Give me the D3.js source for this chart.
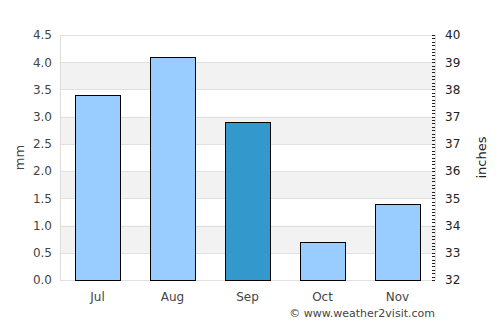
<!DOCTYPE html>
<html><head><meta charset="utf-8">
<script src="https://cdn.jsdelivr.net/npm/d3@7"></script>
<style>body{margin:0;background:#fff}svg{display:block}text{font-family:"DejaVu Sans",sans-serif}</style>
</head><body><svg id="c" width="500" height="325"></svg>
<script>
const months = ["Jul","Aug","Sep","Oct","Nov"];
const rainfall = [3.4,4.1,2.9,0.7,1.4];
const highlight = [false,false,true,false,false];
const leftTicks = [0,0.5,1.0,1.5,2.0,2.5,3.0,3.5,4.0,4.5];
const rightTickLabels = ["32","33","34","35","36","37","37","38","39","40"];

const svg = d3.select("#c");
const m = {l:60, r:435, t:35, b:280};
const x = d3.scaleBand().domain(months).range([m.l, m.r]).paddingInner(0.4).paddingOuter(0.2);
const y = d3.scaleLinear().domain([0,4.5]).range([m.b, m.t]);

// bands
for (let i=0;i<leftTicks.length-1;i++){
  const a = leftTicks[i], b = leftTicks[i+1];
  if (i%2===1) svg.append("rect").attr("x",m.l).attr("width",m.r-m.l).attr("y",y(b)).attr("height",y(a)-y(b)).attr("fill","#f2f2f2");
}
// gridlines
svg.append("g").selectAll("line").data(leftTicks).join("line")
  .attr("x1",m.l).attr("x2",m.r).attr("y1",d=>Math.round(y(d))+0.5).attr("y2",d=>Math.round(y(d))+0.5)
  .attr("stroke","#e0e0e0");
svg.append("line").attr("x1",m.l+0.5).attr("x2",m.l+0.5).attr("y1",m.t).attr("y2",m.b).attr("stroke","#ddd");
svg.append("line").attr("x1",m.r+0.5).attr("x2",m.r+0.5).attr("y1",m.t).attr("y2",m.b).attr("stroke","#ddd");

// bars
svg.append("g").selectAll("rect").data(months).join("rect")
  .attr("x",d=>Math.round(x(d))+0.5).attr("width",Math.round(x.bandwidth()))
  .attr("y",(d,i)=>Math.round(y(rainfall[i]))+0.5).attr("height",(d,i)=>Math.round(y(0))-Math.round(y(rainfall[i])))
  .attr("fill",(d,i)=>highlight[i]?"#3399cc":"#99ccff").attr("stroke","#000").attr("stroke-width",1);

// left axis
const la = svg.append("g").attr("transform",`translate(${m.l},0)`)
  .call(d3.axisLeft(y).tickValues(leftTicks).tickFormat(d3.format(".1f")).tickSize(0).tickPadding(8));
la.select(".domain").remove();
la.selectAll("text").attr("font-size",12).attr("fill","#444");

// bottom axis
const ba = svg.append("g").attr("transform",`translate(0,${m.b})`)
  .call(d3.axisBottom(x).tickSize(0).tickPadding(12));
ba.select(".domain").remove();
ba.selectAll("text").attr("font-size",12).attr("fill","#444");

// right axis
const yr = d3.scalePoint().domain(d3.range(rightTickLabels.length)).range([m.b, m.t]);
const ra = svg.append("g").attr("transform",`translate(${m.r},0)`)
  .call(d3.axisRight(yr).tickFormat(i=>rightTickLabels[i]).tickSize(0).tickPadding(10));
ra.select(".domain").remove();
ra.selectAll("text").attr("font-size",12).attr("fill","#222");
// minor ticks
const step = (m.b-m.t)/(rightTickLabels.length-1);
const minor = d3.range(0,(rightTickLabels.length-1)*8+1).map(k=>m.b-k*step/8);
svg.append("g").selectAll("line").data(minor).join("line")
  .attr("x1",m.r-3).attr("x2",m.r).attr("y1",d=>Math.round(d)+0.5).attr("y2",d=>Math.round(d)+0.5)
  .attr("stroke","#222").attr("stroke-width",1);

// axis titles
svg.append("text").attr("transform",`translate(24,${(m.t+m.b)/2}) rotate(-90)`).attr("text-anchor","middle")
  .attr("font-size",13).attr("fill","#444").text("mm");
svg.append("text").attr("transform",`translate(486,${(m.t+m.b)/2}) rotate(-90)`).attr("text-anchor","middle")
  .attr("font-size",13).attr("fill","#222").text("inches");

svg.append("text").attr("x",m.r).attr("y",317).attr("text-anchor","end").attr("font-size",11).attr("fill","#444")
  .text("© www.weather2visit.com");
</script></body></html>
